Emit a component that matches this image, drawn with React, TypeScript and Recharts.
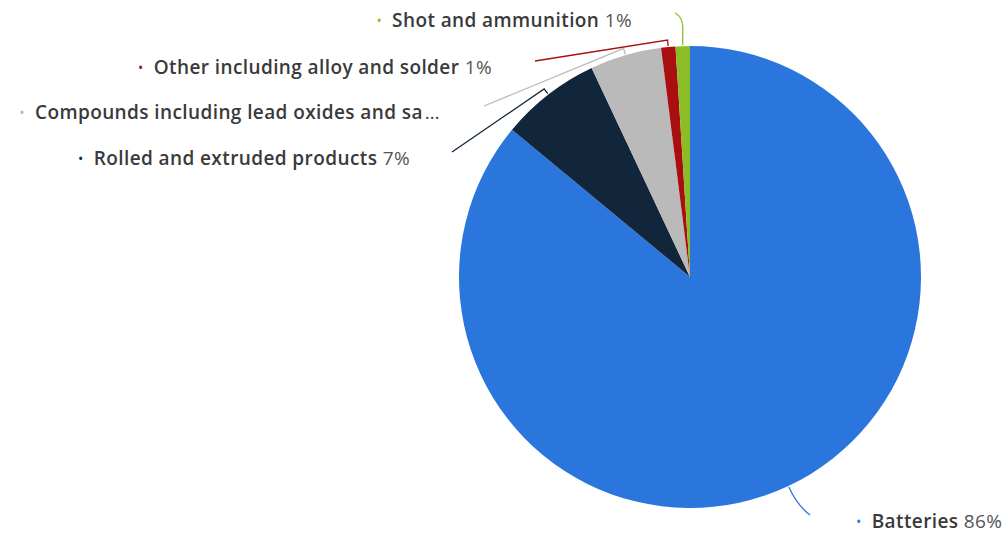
import React from "react";
import { PieChart, Pie, Cell } from "recharts";

const categories = [
  "Batteries",
  "Rolled and extruded products",
  "Compounds including lead oxides and salts",
  "Other including alloy and solder",
  "Shot and ammunition",
];
const shares = [86, 7, 5, 1, 1];
const percentLabels = ["86%", "7%", "5%", "1%", "1%"];
const colors = ["#2a76dd", "#12263b", "#bababa", "#a90f10", "#8cbd26"];

const data = categories.map((name, i) => ({ name, value: shares[i], pct: percentLabels[i] }));

const MAX_CHARS = 38;
const RAD = Math.PI / 180;

// label layout, offsets relative to pie centre (dx, dy): line end and text anchor
const layout = [
  { kind: "curve", end: [120, 238], text: [166, 244], anchor: "start" },
  { kind: "hook", end: [-238, -125], text: [-280, -119], anchor: "end" },
  { kind: "hook", end: [-206, -171], text: [-250, -165], anchor: "end" },
  { kind: "hook", end: [-155, -216], text: [-198, -210], anchor: "end" },
  { kind: "up", end: [-15, -264], text: [-58, -257], anchor: "end" },
];

const renderLabel = (props: any) => {
  const { cx, cy, midAngle, outerRadius, index } = props;
  const L = layout[index];
  const color = colors[index];
  const cos = Math.cos(-midAngle * RAD);
  const sin = Math.sin(-midAngle * RAD);
  const p0 = [cx + (outerRadius + 1) * cos, cy + (outerRadius + 1) * sin];
  const p1 = [cx + (outerRadius + 7) * cos, cy + (outerRadius + 7) * sin];
  const end = [cx + L.end[0], cy + L.end[1]];
  let d = "";
  if (L.kind === "curve") {
    const c = [cx + (outerRadius + 22) * cos, cy + (outerRadius + 22) * sin];
    d = `M${p0[0]},${p0[1]} Q${c[0]},${c[1]} ${end[0]},${end[1]}`;
  } else if (L.kind === "up") {
    const p2 = [p0[0], p0[1] - 18];
    d = `M${p0[0]},${p0[1]} L${p2[0]},${p2[1]} Q${p2[0]},${end[1] + 4} ${end[0]},${end[1]}`;
  } else {
    d = `M${p0[0]},${p0[1]} L${p1[0]},${p1[1]} L${end[0]},${end[1]}`;
  }
  const name = categories[index];
  const truncated = name.length > MAX_CHARS;
  const shown = truncated ? name.slice(0, MAX_CHARS) : name + " ";
  const pct = truncated ? "" : data[index].pct;
  return (
    <g key={`lbl-${index}`}>
      <path d={d} stroke={color} strokeWidth={1.3} fill="none" />
      <text
        x={cx + L.text[0]}
        y={cy + L.text[1]}
        textAnchor={L.anchor}
        dominantBaseline="central"
        fontFamily="'Open Sans', sans-serif"
        fontSize={19}
        letterSpacing={0.4}
      >
        <tspan fill={color} fontSize={14}>{"•"}</tspan>
        <tspan dx={10} fill="#3a3a3a" fontWeight={600}>{shown}</tspan>
        {truncated ? <tspan dx={2} fill="#3a3a3a">{"…"}</tspan> : null}
        {pct ? <tspan fill="#555" fontWeight={400}>{pct}</tspan> : null}
      </text>
    </g>
  );
};

export default function App() {
  return (
    <div style={{ position: "absolute", left: 0, top: 0, background: "#fff" }}>
      <PieChart width={1004} height={538} margin={{ top: 0, right: 0, bottom: 0, left: 0 }}>
        <Pie
          data={data}
          dataKey="value"
          nameKey="name"
          cx={690}
          cy={277}
          outerRadius={231}
          startAngle={90}
          endAngle={-270}
          stroke="none"
          label={renderLabel}
          labelLine={false}
          isAnimationActive={false}
        >
          {data.map((d, i) => (
            <Cell key={d.name} fill={colors[i]} />
          ))}
        </Pie>
      </PieChart>
    </div>
  );
}
